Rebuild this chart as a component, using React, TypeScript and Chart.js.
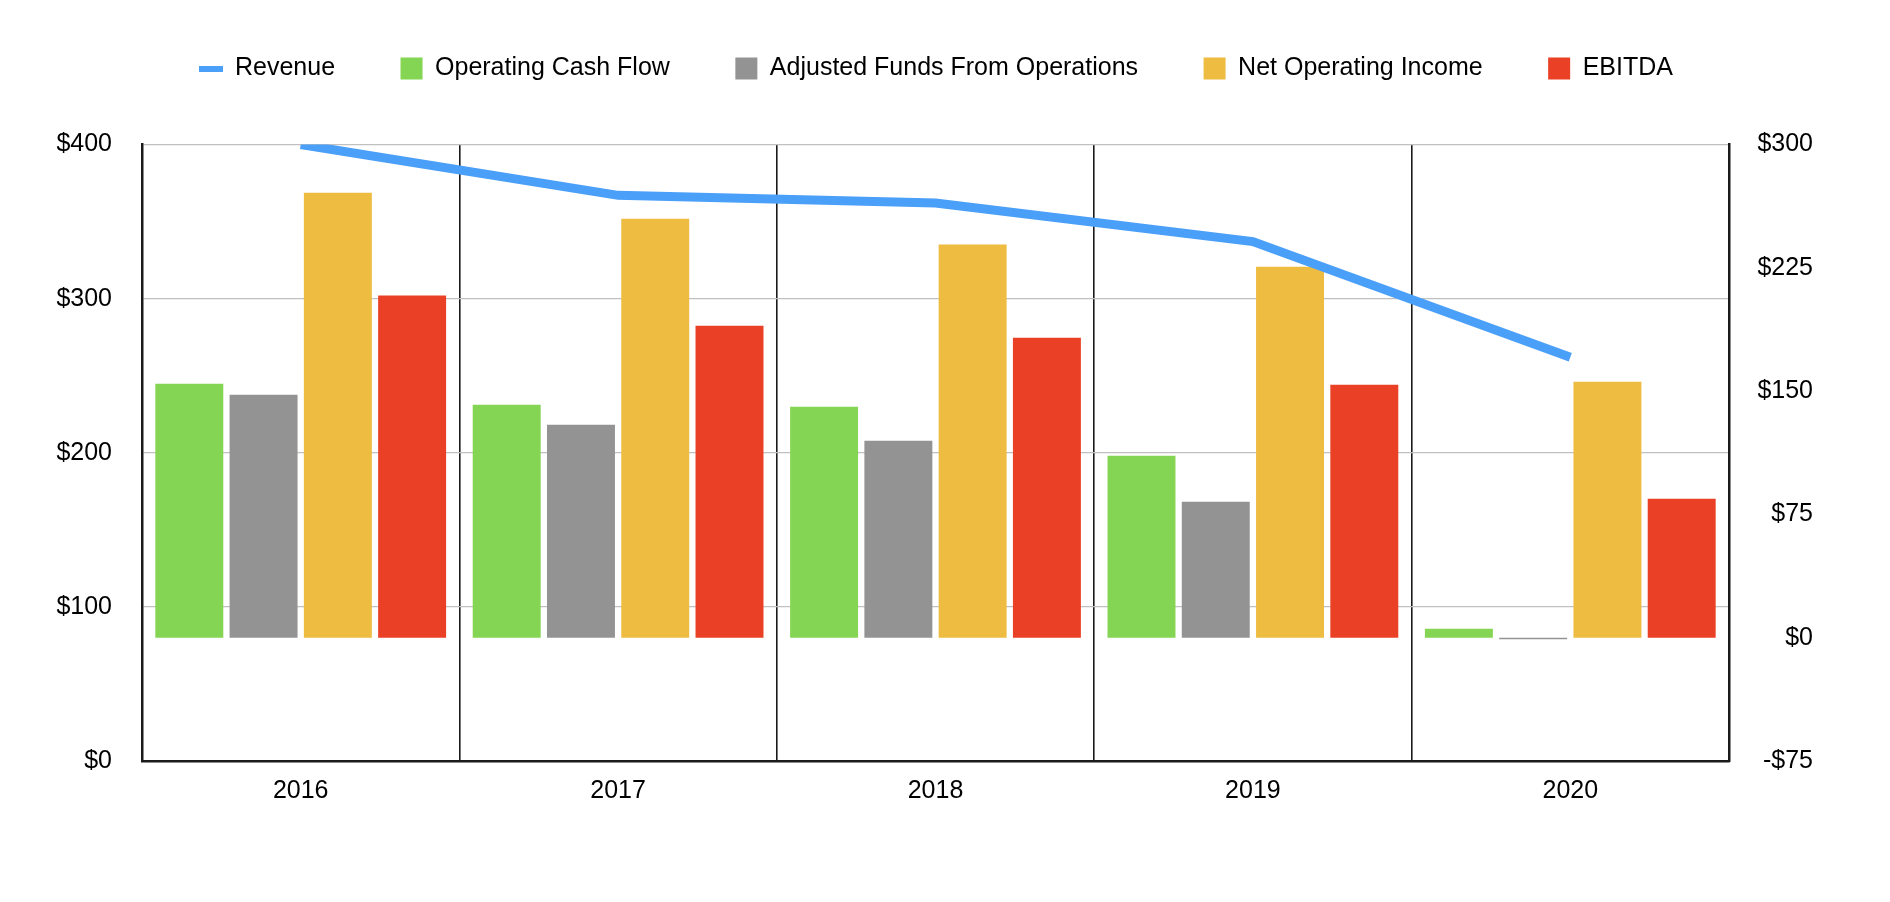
import { useEffect, useRef } from "react"
import { Chart, registerables } from "chart.js"

Chart.register(...registerables)

const years = ["2016", "2017", "2018", "2019", "2020"]
const revenue = [400, 367, 362, 337, 262]
const operatingCashFlow = [154.5, 141.7, 140.5, 110.7, 5.4]
const adjustedFundsFromOperations = [147.8, 129.5, 119.8, 82.7, -1]
const netOperatingIncome = [270.7, 254.9, 239.1, 225.7, 155.7]
const ebitda = [208.1, 189.8, 182.5, 153.9, 84.5]
const leftTicks = [0, 100, 200, 300, 400]
const rightTicks = [-75, 0, 75, 150, 225, 300]

const FONT = "'Liberation Sans', Arial, Helvetica, sans-serif"
const BLUE = "#4a9ff8"

function money(v: number) {
  return v < 0 ? `-$${Math.abs(v)}` : `$${v}`
}

// short flat bar used as the Revenue legend marker
function revenueMarker() {
  const c = document.createElement("canvas")
  c.width = 24
  c.height = 6
  const ctx = c.getContext("2d")
  if (ctx) {
    ctx.fillStyle = BLUE
    ctx.fillRect(0, 0, 24, 6)
  }
  return c
}

// the side paddings differ, so nudge the legend back to the page centre
const shiftLegend = {
  id: "shiftLegend",
  afterLayout(chart: any) {
    const legend = chart.legend
    if (legend) {
      legend.left += 17
      legend.right += 17
    }
  },
}

export default function App() {
  const chartRef = useRef<HTMLCanvasElement>(null)
  const chartInstance = useRef<Chart | null>(null)

  useEffect(() => {
    document.body.style.margin = "0"
    if (!chartRef.current) return
    if (chartInstance.current) chartInstance.current.destroy()
    const ctx = chartRef.current.getContext("2d")
    if (!ctx) return

    const marker = revenueMarker()
    const tickFont = { family: FONT, size: 25 }

    chartInstance.current = new Chart(ctx, {
      type: "bar",
      data: {
        labels: years,
        datasets: [
          {
            type: "line",
            label: "Revenue",
            data: revenue,
            yAxisID: "y",
            borderColor: BLUE,
            backgroundColor: BLUE,
            borderWidth: 9,
            borderCapStyle: "butt",
            borderJoinStyle: "miter",
            pointRadius: 0,
            pointHoverRadius: 0,
            tension: 0,
            order: 0,
          },
          {
            label: "Operating Cash Flow",
            data: operatingCashFlow,
            yAxisID: "y1",
            backgroundColor: "#84d553",
            order: 1,
          },
          {
            label: "Adjusted Funds From Operations",
            data: adjustedFundsFromOperations,
            yAxisID: "y1",
            backgroundColor: "#939393",
            order: 2,
          },
          {
            label: "Net Operating Income",
            data: netOperatingIncome,
            yAxisID: "y1",
            backgroundColor: "#eebc41",
            order: 3,
          },
          {
            label: "EBITDA",
            data: ebitda,
            yAxisID: "y1",
            backgroundColor: "#ea4026",
            order: 4,
          },
        ],
      } as any,
      options: {
        animation: false,
        responsive: true,
        maintainAspectRatio: false,
        datasets: {
          bar: {
            categoryPercentage: 0.936,
            barPercentage: 0.915,
            borderWidth: 0,
          },
        },
        layout: {
          padding: { top: -9.5, left: 26.4, right: 77, bottom: 80 },
        },
        plugins: {
          legend: {
            position: "top",
            weight: 3000,
            labels: {
              usePointStyle: true,
              boxWidth: 22,
              boxHeight: 22,
              padding: 65.5,
              color: "#000",
              font: { family: FONT, size: 25 },
              generateLabels: (chart: Chart) =>
                Chart.defaults.plugins.legend.labels
                  .generateLabels(chart)
                  .map((item) =>
                    item.datasetIndex === 0
                      ? { ...item, pointStyle: marker, lineWidth: 0 }
                      : { ...item, pointStyle: "rect", lineWidth: 0, strokeStyle: item.fillStyle }
                  ),
            },
          },
          // empty title = spacer between legend and plot
          title: {
            display: true,
            text: "",
            padding: { top: 0, bottom: 41.5 },
            font: { size: 10 },
          },
          tooltip: { enabled: false },
        } as any,
        scales: {
          x: {
            offset: true,
            grid: {
              offset: true,
              color: "#1a1a1a",
              lineWidth: 1.6,
              drawTicks: false,
            },
            border: { display: true, color: "#1a1a1a", width: 2.5 },
            ticks: { color: "#000", font: tickFont, padding: 15.5 },
          },
          y: {
            position: "left",
            min: 0,
            max: 400,
            afterBuildTicks: (scale: any) => {
              scale.ticks = leftTicks.map((value) => ({ value }))
            },
            grid: { color: "#c0c0c0", lineWidth: 1.2, drawTicks: false },
            border: { display: true, color: "#1a1a1a", width: 2.5 },
            ticks: {
              color: "#000",
              font: tickFont,
              padding: 30,
              callback: (v: any) => money(Number(v)),
            },
          },
          y1: {
            position: "right",
            min: -75,
            max: 300,
            afterBuildTicks: (scale: any) => {
              scale.ticks = rightTicks.map((value) => ({ value }))
            },
            grid: { display: false, drawTicks: false },
            border: { display: true, color: "#1a1a1a", width: 2.5 },
            ticks: {
              color: "#000",
              font: tickFont,
              padding: 14.2,
              crossAlign: "far",
              callback: (v: any) => money(Number(v)),
            },
          },
        },
      } as any,
      plugins: [shiftLegend],
    })

    return () => {
      if (chartInstance.current) {
        chartInstance.current.destroy()
        chartInstance.current = null
      }
    }
  }, [])

  return (
    <div style={{ position: "relative", width: "1890px", height: "902px" }}>
      <canvas ref={chartRef} />
    </div>
  )
}
